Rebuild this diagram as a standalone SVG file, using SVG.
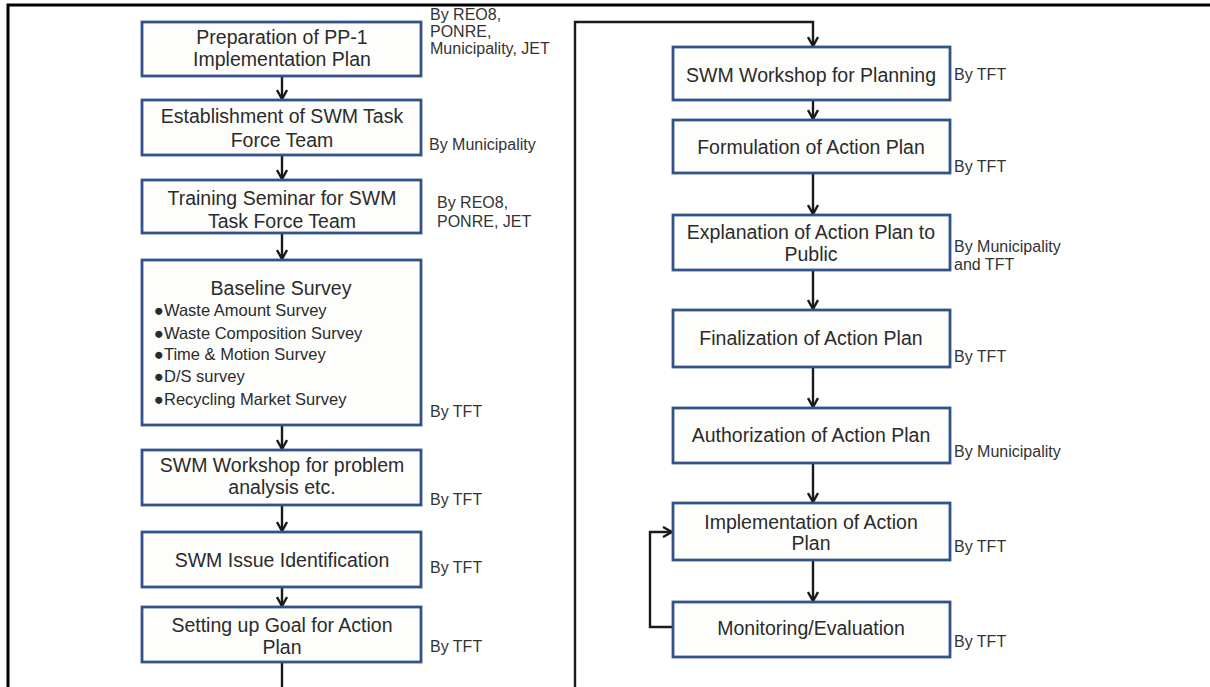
<svg xmlns="http://www.w3.org/2000/svg" width="1210" height="687" viewBox="0 0 1210 687">
<defs>
<style>
.box{fill:#fdfdfb;stroke:#34528a;stroke-width:2.8}
.t{font-family:"Liberation Sans",Arial,sans-serif;font-size:19.5px;fill:#2b2b2b;text-anchor:middle}
.b{font-family:"Liberation Sans",Arial,sans-serif;font-size:16.5px;fill:#2b2b2b}
.l{font-family:"Liberation Sans",Arial,sans-serif;font-size:16px;fill:#333}
.c{fill:none;stroke:#1a1a1a;stroke-width:2.4}
.frame{fill:none;stroke:#000;stroke-width:3}
</style>
<marker id="ah" viewBox="0 0 11 12" refX="10" refY="6" markerWidth="11" markerHeight="12" markerUnits="userSpaceOnUse" orient="auto">
<path d="M1,1 L10,6 L1,11" fill="none" stroke="#1a1a1a" stroke-width="2.4"/>
</marker>
</defs>
<rect width="1210" height="687" fill="#fff"/>
<path class="frame" d="M8,700 V5 H1212"/>

<g id="connectors">
<path class="c" d="M282,76 V99" marker-end="url(#ah)"/>
<path class="c" d="M282,155 V179" marker-end="url(#ah)"/>
<path class="c" d="M282,233 V259" marker-end="url(#ah)"/>
<path class="c" d="M282,425 V449" marker-end="url(#ah)"/>
<path class="c" d="M282,505 V531" marker-end="url(#ah)"/>
<path class="c" d="M282,587 V606" marker-end="url(#ah)"/>
<path class="c" d="M282,662 V700 H575 V22 H813 V46" marker-end="url(#ah)"/>
<path class="c" d="M813,100 V119" marker-end="url(#ah)"/>
<path class="c" d="M813,173 V214" marker-end="url(#ah)"/>
<path class="c" d="M813,270 V309" marker-end="url(#ah)"/>
<path class="c" d="M813,367 V407" marker-end="url(#ah)"/>
<path class="c" d="M813,463 V502" marker-end="url(#ah)"/>
<path class="c" d="M813,560 V601" marker-end="url(#ah)"/>
<path class="c" d="M673,627 H650 V532 H672" marker-end="url(#ah)"/>
</g>

<g id="n1"><rect class="box" x="142" y="22" width="279" height="54"/>
<text class="t" x="282" y="44">Preparation of PP-1</text><text class="t" x="282" y="66">Implementation Plan</text>
<text class="l" x="430" y="20">By REO8,</text><text class="l" x="430" y="37">PONRE,</text><text class="l" x="430" y="54">Municipality, JET</text></g>

<g id="n2"><rect class="box" x="142" y="100" width="279" height="55"/>
<text class="t" x="282" y="123">Establishment of SWM Task</text><text class="t" x="282" y="147">Force Team</text>
<text class="l" x="429" y="150">By Municipality</text></g>

<g id="n3"><rect class="box" x="142" y="180" width="279" height="53"/>
<text class="t" x="282" y="205">Training Seminar for SWM</text><text class="t" x="282" y="228">Task Force Team</text>
<text class="l" x="437" y="208">By REO8,</text><text class="l" x="437" y="227">PONRE, JET</text></g>

<g id="n4"><rect class="box" x="142" y="260" width="279" height="165"/>
<text class="t" x="281" y="295">Baseline Survey</text>
<text class="b" x="154" y="316">●Waste Amount Survey</text>
<text class="b" x="154" y="339">●Waste Composition Survey</text>
<text class="b" x="154" y="360">●Time &amp; Motion Survey</text>
<text class="b" x="154" y="382">●D/S survey</text>
<text class="b" x="154" y="405">●Recycling Market Survey</text>
<text class="l" x="430" y="417">By TFT</text></g>

<g id="n5"><rect class="box" x="142" y="450" width="279" height="55"/>
<text class="t" x="282" y="472">SWM Workshop for problem</text><text class="t" x="282" y="494">analysis etc.</text>
<text class="l" x="430" y="505">By TFT</text></g>

<g id="n6"><rect class="box" x="142" y="532" width="279" height="55"/>
<text class="t" x="282" y="567">SWM Issue Identification</text>
<text class="l" x="430" y="573">By TFT</text></g>

<g id="n7"><rect class="box" x="142" y="607" width="279" height="55"/>
<text class="t" x="282" y="632">Setting up Goal for Action</text><text class="t" x="282" y="654">Plan</text>
<text class="l" x="430" y="652">By TFT</text></g>

<g id="r1"><rect class="box" x="673" y="47" width="277" height="53"/>
<text class="t" x="811" y="82">SWM Workshop for Planning</text>
<text class="l" x="954" y="80">By TFT</text></g>

<g id="r2"><rect class="box" x="673" y="120" width="277" height="53"/>
<text class="t" x="811" y="154">Formulation of Action Plan</text>
<text class="l" x="954" y="172">By TFT</text></g>

<g id="r3"><rect class="box" x="673" y="215" width="277" height="55"/>
<text class="t" x="811" y="239">Explanation of Action Plan to</text><text class="t" x="811" y="261">Public</text>
<text class="l" x="954" y="252">By Municipality</text><text class="l" x="954" y="270">and TFT</text></g>

<g id="r4"><rect class="box" x="673" y="310" width="277" height="57"/>
<text class="t" x="811" y="345">Finalization of Action Plan</text>
<text class="l" x="954" y="362">By TFT</text></g>

<g id="r5"><rect class="box" x="673" y="408" width="277" height="55"/>
<text class="t" x="811" y="442">Authorization of Action Plan</text>
<text class="l" x="954" y="457">By Municipality</text></g>

<g id="r6"><rect class="box" x="673" y="503" width="277" height="57"/>
<text class="t" x="811" y="529">Implementation of Action</text><text class="t" x="811" y="550">Plan</text>
<text class="l" x="954" y="552">By TFT</text></g>

<g id="r7"><rect class="box" x="673" y="602" width="277" height="55"/>
<text class="t" x="811" y="635">Monitoring/Evaluation</text>
<text class="l" x="954" y="647">By TFT</text></g>
</svg>
